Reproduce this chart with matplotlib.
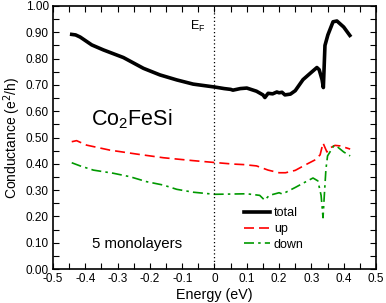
import matplotlib
matplotlib.use("Agg")
import matplotlib.pyplot as plt
from matplotlib.ticker import MultipleLocator

plt.rcParams['font.family'] = ['Liberation Sans', 'DejaVu Sans']

# Total conductance
e_total = [-0.442, -0.43, -0.416, -0.38, -0.344, -0.282, -0.22, -0.169, -0.117, -0.066,
           0.0, 0.03, 0.05, 0.057, 0.08, 0.10, 0.13, 0.15, 0.156, 0.166, 0.18, 0.193, 0.20, 0.209, 0.218,
           0.235, 0.25, 0.274, 0.30, 0.317, 0.324, 0.333, 0.337, 0.342, 0.351, 0.367, 0.379, 0.40, 0.419]
g_total = [0.892, 0.890, 0.882, 0.852, 0.833, 0.804, 0.763, 0.738, 0.719, 0.703,
           0.692, 0.686, 0.683, 0.680, 0.686, 0.688, 0.676, 0.662, 0.652, 0.668, 0.666, 0.673, 0.670, 0.672, 0.662,
           0.665, 0.678, 0.720, 0.748, 0.766, 0.758, 0.720, 0.690, 0.850, 0.890, 0.940, 0.943, 0.920, 0.888]

# Spin up
e_up = [-0.442, -0.427, -0.396, -0.324, -0.241, -0.158, -0.066, 0.0, 0.057, 0.09, 0.13,
        0.166, 0.20, 0.22, 0.25, 0.28, 0.31, 0.327, 0.336, 0.348, 0.357, 0.373, 0.389, 0.42]
g_up = [0.484, 0.488, 0.471, 0.452, 0.437, 0.423, 0.412, 0.405, 0.399, 0.397, 0.392,
        0.376, 0.366, 0.366, 0.375, 0.395, 0.414, 0.434, 0.479, 0.445, 0.460, 0.470, 0.468, 0.456]

# Spin down
e_down = [-0.442, -0.416, -0.375, -0.313, -0.262, -0.21, -0.158, -0.117, -0.066, 0.0, 0.05, 0.10, 0.14,
          0.155, 0.17, 0.20, 0.21, 0.25, 0.28, 0.305, 0.32, 0.33, 0.336, 0.34, 0.345, 0.35, 0.37, 0.38, 0.40, 0.42]
g_down = [0.404, 0.392, 0.376, 0.364, 0.351, 0.332, 0.319, 0.303, 0.292, 0.284, 0.285, 0.286, 0.280,
          0.262, 0.280, 0.290, 0.285, 0.310, 0.330, 0.346, 0.335, 0.280, 0.195, 0.280, 0.380, 0.430, 0.470, 0.465, 0.445, 0.430]

xticks = [-0.5, -0.4, -0.3, -0.2, -0.1, 0.0, 0.1, 0.2, 0.3, 0.4, 0.5]
xticklabels = ['-0.5', '-0.4', '-0.3', '-0.2', '-0.1', '0', '0.1', '0.2', '0.3', '0.4', '0.5']
yticks = [0.0, 0.1, 0.2, 0.3, 0.4, 0.5, 0.6, 0.7, 0.8, 0.9, 1.0]
yticklabels = ['%.2f' % v for v in yticks]

fig = plt.figure(figsize=(3.86, 3.03), dpi=100)
ax = fig.add_axes([53/386, 1 - 269/303, (376-53)/386, (269-6)/303])

ax.plot(e_total, g_total, color='black', lw=2.6, label='total', solid_joinstyle='round')
ax.plot(e_up, g_up, color='#ff0000', lw=1.2, ls=(0, (6, 3)), label='up')
ax.plot(e_down, g_down, color='#009900', lw=1.2, ls=(0, (6, 2.5, 1.5, 2.5)), label='down')
ax.axvline(0, color='black', lw=0.9, ls=(0, (1, 2)))

ax.set_xlim(-0.5, 0.5)
ax.set_ylim(0.0, 1.0)
ax.set_xticks(xticks)
ax.set_xticklabels(xticklabels)
ax.set_yticks(yticks)
ax.set_yticklabels(yticklabels)
ax.xaxis.set_minor_locator(MultipleLocator(0.05))
ax.yaxis.set_minor_locator(MultipleLocator(0.05))
ax.tick_params(which='both', direction='in', top=True, right=True, length=4, width=0.8, labelsize=8.5, pad=3)
for s in ax.spines.values():
    s.set_linewidth(1.2)

ax.set_xlabel('Energy (eV)', fontsize=10.3, labelpad=2)
ax.set_ylabel('Conductance (e$^2$/h)', fontsize=10, labelpad=2)

ax.text(-0.052, 0.922, 'E$_\\mathregular{F}$', fontsize=9, ha='center', va='center')
ax.text(-0.255, 0.57, 'Co$_\\mathregular{2}$FeSi', fontsize=15.5, ha='center', va='center')
ax.text(-0.24, 0.095, '5 monolayers', fontsize=10.8, ha='center', va='center')

ax.legend(loc='lower left', bbox_to_anchor=(0.556, 0.027), frameon=False, fontsize=9,
          handlelength=2.1, handletextpad=0.3, labelspacing=0.3)

fig.savefig('out.png', dpi=100)
